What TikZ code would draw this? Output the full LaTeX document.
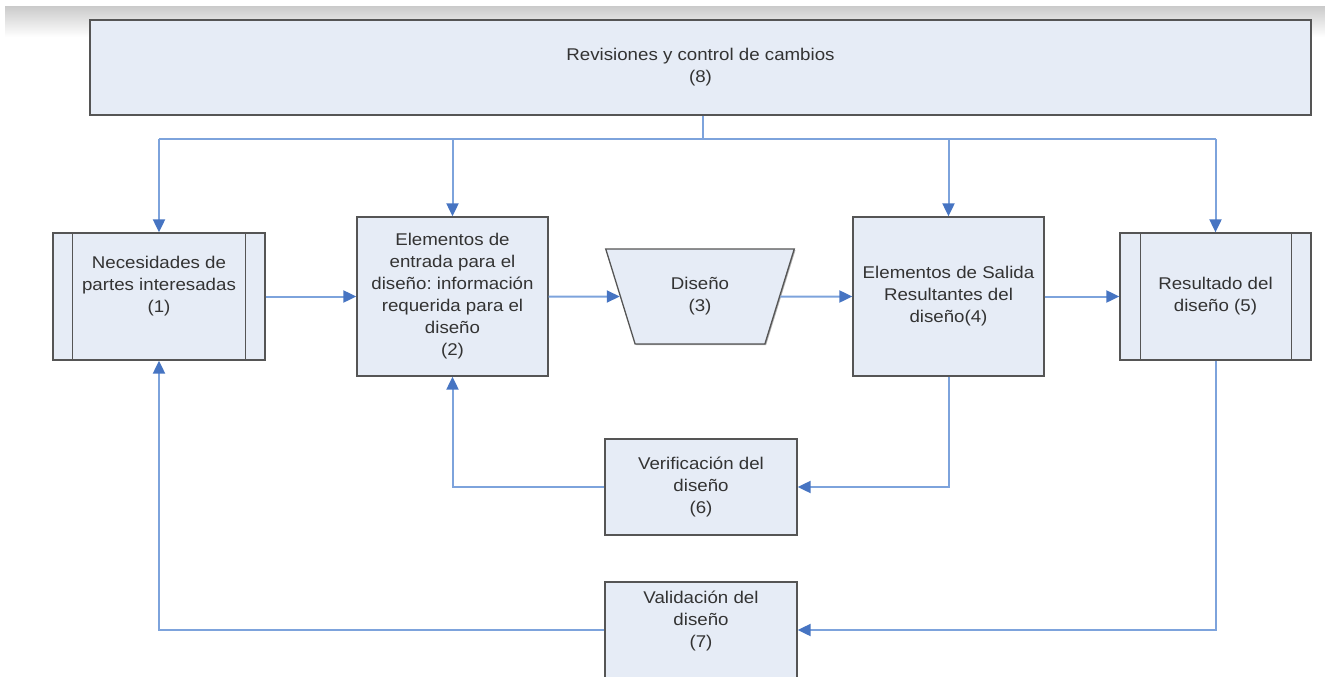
\documentclass[tikz,border=0pt]{standalone}
\usepackage{fontspec}
\setmainfont{Liberation Sans}[FakeStretch=1.1]
\frenchspacing
\usetikzlibrary{arrows.meta,shapes.geometric,shadows,calc}
\definecolor{boxfill}{HTML}{E6ECF6}
\definecolor{boxline}{HTML}{555555}
\definecolor{conn}{HTML}{7DA3DC}
\definecolor{tipc}{HTML}{4674C2}
\definecolor{txtc}{HTML}{333333}
\begin{document}
\begin{tikzpicture}[x=1pt,y=-1pt,
  font=\fontsize{17}{22}\selectfont,
  box/.style={draw=boxline,fill=boxfill,line width=1.3pt,
    drop shadow={shadow xshift=1.2pt,shadow yshift=-1.2pt,opacity=0.3,fill=black},
    inner sep=0pt,align=center,text=txtc},
  txt/.style={align=center,text=txtc,inner sep=0pt},
  conline/.style={draw=conn,line width=2pt},
  arr/.style={conline,-{Triangle[length=13pt,width=12pt,color=tipc]}}]
\useasboundingbox (0,0) rectangle (1325,677);
\clip (0,0) rectangle (1325,677);
% faint grey band along the top edge
\shade[top color=black!20,bottom color=white] (5,7) rectangle (1325,37);

% revisions box across the top
\node[box,minimum width=1221pt,minimum height=95pt] (n8) at (700.5,67.5)
  {Revisiones y control de cambios\\(8)};

% main row
\node[box,minimum width=212pt,minimum height=127pt] (n1) at (159,296.5) {};
\node[txt] (t1) at ([yshift=10pt]n1.center) {Necesidades de\\partes interesadas\\(1)};
\draw[boxline,line width=1.3pt] ([xshift=20pt]n1.north west) -- ([xshift=20pt]n1.south west);
\draw[boxline,line width=1.3pt] ([xshift=-20pt]n1.north east) -- ([xshift=-20pt]n1.south east);

\node[box,minimum width=191pt,minimum height=159pt] (n2) at (452.5,296.5)
  {Elementos de\\entrada para el\\diseño: información\\requerida para el\\diseño\\(2)};

\node[box,trapezium,trapezium stretches=true,trapezium angle=70.8,
  shape border rotate=180,minimum width=189pt,minimum height=95pt] (n3) at (700,296.5)
  {Diseño\\(3)};

\node[box,minimum width=191pt,minimum height=159pt] (n4) at (948.5,296.5)
  {Elementos de Salida\\Resultantes del\\diseño(4)};

\node[box,minimum width=191pt,minimum height=127pt] (n5) at (1215.5,296.5)
  {Resultado del\\diseño (5)};
\draw[boxline,line width=1.3pt] ([xshift=21pt]n5.north west) -- ([xshift=21pt]n5.south west);
\draw[boxline,line width=1.3pt] ([xshift=-20pt]n5.north east) -- ([xshift=-20pt]n5.south east);

% lower feedback boxes
\node[box,minimum width=192pt,minimum height=96pt] (n6) at (701,487)
  {Verificación del\\diseño\\(6)};
\node[box,minimum width=192pt,minimum height=96pt] (n7) at (701,630) {};
\node[txt] (t7) at ([yshift=9pt]n7.center) {Validación del\\diseño\\(7)};

% distribution from the revisions box
\coordinate (hub) at (703,139);
\draw[conline] (n8.south -| hub) -- (hub);
\draw[conline] (n1.north |- hub) -- (n5.north |- hub);
\draw[arr] (n1.north |- hub) -- (n1.north);
\draw[arr] (n2.north |- hub) -- (n2.north);
\draw[arr] (n4.north |- hub) -- (n4.north);
\draw[arr] (n5.north |- hub) -- (n5.north);

% main flow
\draw[arr] (n1.east) -- (n2.west);
\draw[arr] (n2.east) -- (n3);
\draw[arr] (n3) -- (n4.west);
\draw[arr] (n4.east) -- (n5.west);

% verification and validation loops
\draw[arr] (n4.south) |- (n6.east);
\draw[arr] (n6.west) -| (n2.south);
\draw[arr] (n5.south) |- (n7.east);
\draw[arr] (n7.west) -| (n1.south);
\end{tikzpicture}
\end{document}
